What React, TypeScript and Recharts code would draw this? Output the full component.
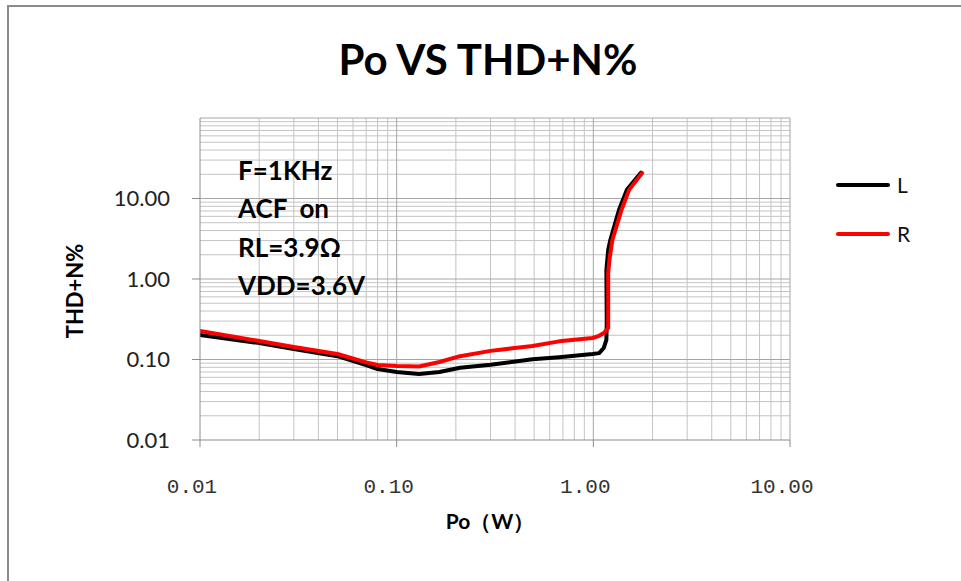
import { Legend, Line, LineChart, ReferenceLine, XAxis, YAxis } from "recharts";

// Po (W) vs THD+N% for left / right channel
const poL = [0.01, 0.02, 0.03, 0.05, 0.07, 0.08, 0.1, 0.13, 0.165, 0.21, 0.3, 0.49, 0.67, 0.99, 1.07, 1.13, 1.165, 1.17, 1.165, 1.19, 1.22, 1.35, 1.48, 1.75];
const thdL = [0.202, 0.16, 0.135, 0.11, 0.085, 0.076, 0.07, 0.066, 0.07, 0.079, 0.086, 0.101, 0.107, 0.117, 0.12, 0.139, 0.175, 0.3, 1.3, 2.29, 3.05, 7.2, 12.8, 21];

const poR = [0.01, 0.02, 0.03, 0.05, 0.07, 0.08, 0.1, 0.13, 0.165, 0.21, 0.3, 0.49, 0.67, 0.99, 1.07, 1.13, 1.19, 1.19, 1.21, 1.25, 1.39, 1.52, 1.77];
const thdR = [0.226, 0.17, 0.143, 0.117, 0.092, 0.0855, 0.083, 0.082, 0.093, 0.11, 0.128, 0.147, 0.168, 0.185, 0.197, 0.213, 0.246, 1.19, 1.8, 3.05, 7.2, 12.8, 20.7];

const xTicks = [0.01, 0.1, 1, 10];
const yTicks = [0.01, 0.1, 1, 10];
const xMinor = [0.02, 0.03, 0.04, 0.05, 0.06, 0.07, 0.08, 0.09, 0.2, 0.3, 0.4, 0.5, 0.6, 0.7, 0.8, 0.9, 2, 3, 4, 5, 6, 7, 8, 9];
const yMinor = [0.02, 0.03, 0.04, 0.05, 0.06, 0.07, 0.08, 0.09, 0.2, 0.3, 0.4, 0.5, 0.6, 0.7, 0.8, 0.9, 2, 3, 4, 5, 6, 7, 8, 9, 20, 30, 40, 50, 60, 70, 80, 90];
const yMajor = [0.1, 1, 10, 100];
const xMajor = [0.1, 1, 10];

const notes = ["F=1KHz", "ACF  on", "RL=3.9Ω", "VDD=3.6V"];

const dataL = poL.map((po, i) => ({ po, thd: thdL[i] }));
const dataR = poR.map((po, i) => ({ po, thd: thdR[i] }));

const FONT = "Lato, 'Open Sans', sans-serif";

function LegendBox({ payload }: any) {
  return (
    <div style={{ fontFamily: FONT }}>
      {(payload || []).map((p: any) => (
        <div key={p.value} style={{ display: "flex", alignItems: "center", height: 49 }}>
          <span style={{ width: 54, height: 4, borderRadius: 2, background: p.color, marginRight: 7 }} />
          <span style={{ fontSize: 21, color: "#111" }}>{p.value}</span>
        </div>
      ))}
    </div>
  );
}

export default function App() {
  return (
    <div style={{ position: "absolute", left: 0, top: 0, width: 961, height: 581, overflow: "hidden", background: "#fff" }}>
      <div style={{ position: "absolute", left: 7, top: 5, width: 960, height: 600, borderLeft: "2px solid #8c8c8c", borderTop: "2px solid #8c8c8c" }} />
      <LineChart width={961} height={581} margin={{ top: 118, right: 171, bottom: 81, left: 0 }}>
        {xMinor.map((v) => (
          <ReferenceLine key={"xm" + v} x={v} stroke="#c4c4c4" strokeWidth={1} />
        ))}
        {yMinor.map((v) => (
          <ReferenceLine key={"ym" + v} y={v} stroke="#c4c4c4" strokeWidth={1} />
        ))}
        {xMajor.map((v) => (
          <ReferenceLine key={"xM" + v} x={v} stroke="#a6a6a6" strokeWidth={1} />
        ))}
        {yMajor.map((v) => (
          <ReferenceLine key={"yM" + v} y={v} stroke="#a6a6a6" strokeWidth={1} />
        ))}
        <XAxis
          dataKey="po"
          type="number"
          scale="log"
          domain={[0.01, 10]}
          ticks={xTicks}
          allowDataOverflow
          height={60}
          tickSize={7}
          tickMargin={31}
          stroke="#8c8c8c"
          tick={{ fill: "#333", fontSize: 21, fontFamily: "'Liberation Mono', monospace", dx: -8 }}
          tickFormatter={(v: number) => v.toFixed(2)}
        />
        <YAxis
          dataKey="thd"
          type="number"
          scale="log"
          domain={[0.01, 100]}
          ticks={yTicks}
          allowDataOverflow
          width={200}
          tickSize={8}
          tickMargin={22}
          stroke="#8c8c8c"
          tick={{ fill: "#222", fontSize: 22, fontFamily: FONT }}
          tickFormatter={(v: number) => v.toFixed(2)}
        />
        <Legend
          layout="vertical"
          align="center"
          verticalAlign="middle"
          wrapperStyle={{ position: "absolute", left: 836, top: 160, width: 100 }}
          content={<LegendBox />}
        />
        <Line data={dataL} dataKey="thd" name="L" type="linear" stroke="#000000" strokeWidth={4} dot={false} strokeLinecap="round" strokeLinejoin="round" isAnimationActive={false} />
        <Line data={dataR} dataKey="thd" name="R" type="linear" stroke="#ff0000" strokeWidth={4} dot={false} strokeLinecap="round" strokeLinejoin="round" isAnimationActive={false} />
      </LineChart>
      <div style={{ position: "absolute", left: 0, width: 976, top: 37, textAlign: "center", fontFamily: FONT, fontWeight: 700, fontSize: 42, lineHeight: "44px", color: "#000" }}>
        Po VS THD+N%
      </div>
      <div style={{ position: "absolute", left: 238, top: 151, fontFamily: FONT, fontWeight: 700, fontSize: 26, lineHeight: "38.3px", color: "#000", whiteSpace: "pre" }}>
        {notes.map((n) => (
          <div key={n}>{n}</div>
        ))}
      </div>
      <div style={{ position: "absolute", left: 390, width: 200, top: 508, textAlign: "center", fontFamily: FONT, fontWeight: 700, fontSize: 21, lineHeight: "26px", color: "#000" }}>
        Po（W）
      </div>
      <div style={{ position: "absolute", left: 75 - 60, width: 120, top: 291 - 13, textAlign: "center", fontFamily: FONT, fontWeight: 700, fontSize: 22, lineHeight: "26px", color: "#000", transform: "rotate(-90deg)" }}>
        THD+N%
      </div>
    </div>
  );
}
